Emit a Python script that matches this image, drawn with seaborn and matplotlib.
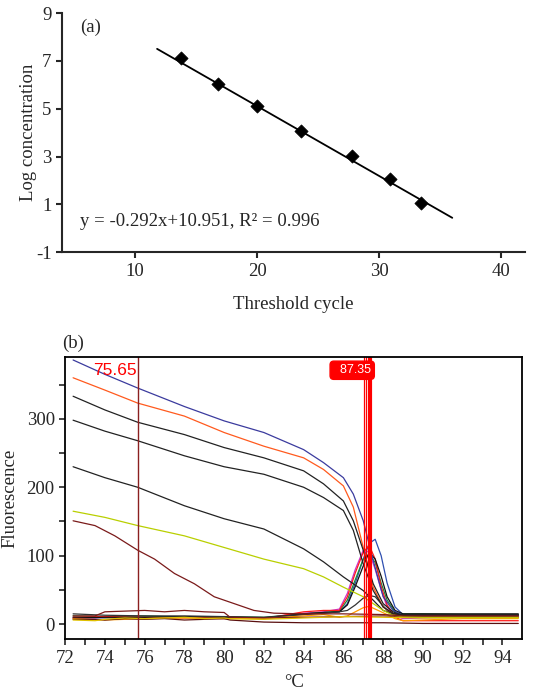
import numpy as np
import pandas as pd
import matplotlib
matplotlib.use('Agg')
import matplotlib.pyplot as plt
import seaborn as sns

# (a) standard curve: threshold cycle vs log concentration
ct = [13.8, 16.8, 20.0, 23.6, 27.8, 30.9, 33.4]
log_conc = [7.12, 6.05, 5.13, 4.08, 3.02, 2.05, 1.04]
slope = -0.292
intercept = 10.951
fit_x = [11.8, 36.0]
eq_text = 'y = -0.292x+10.951, R² = 0.996'

# (b) melting curves
temp_raw = [72.4, 74, 75.65, 78, 80, 82, 84, 85, 86, 86.5, 87, 87.5, 88, 88.5, 89, 90, 92, 94.8]
blue = [386, 365, 345, 318, 297, 280, 255, 236, 214, 190, 151, 93, 40, 20, 13, 12, 12, 12]
orange = [360, 342, 323, 304, 280, 260, 243, 226, 202, 171, 112, 54, 25, 15, 12, 11, 11, 11]
black1 = [333, 313, 295, 277, 258, 243, 224, 205, 180, 151, 108, 59, 30, 18, 12, 12, 12, 12]
black2 = [298, 282, 268, 246, 230, 219, 200, 185, 166, 137, 88, 49, 25, 16, 13, 13, 13, 13]
black3 = [230, 214, 200, 173, 154, 139, 110, 91, 69, 59, 49, 35, 20, 15, 14, 14, 14, 14]
yellow = [165, 156, 144, 129, 112, 95, 81, 69, 54, 47, 40, 30, 20, 13, 11, 10, 10, 10]

temp_brown = [72.4, 73.5, 74.5, 75.65, 76.5, 77.5, 78.5, 79.5, 80.5, 81.5, 82.5, 84, 86, 88, 89, 92, 94.8]
brown = [151, 144, 129, 108, 95, 74, 59, 40, 30, 20, 16, 15, 15, 14, 12, 12, 12]

temp_pk = [72.4, 74, 76, 78, 80, 82, 84, 85, 85.8, 86.2, 86.6, 87.0, 87.3, 87.6, 87.9, 88.2, 88.6, 89.0, 90, 92, 94.8]
peak_blue = [10, 9, 10, 11, 9, 8, 14, 16, 18, 30, 60, 95, 118, 124, 100, 60, 25, 14, 13, 13, 12]
peak_magenta = [8, 10, 9, 10, 8, 9, 16, 18, 22, 45, 80, 108, 105, 80, 50, 25, 12, 8, 9, 10, 10]
peak_green = [12, 11, 12, 10, 11, 10, 15, 17, 19, 35, 65, 95, 102, 90, 60, 35, 18, 15, 15, 14, 14]
peak_red = [10, 11, 10, 9, 10, 8, 18, 20, 20, 40, 75, 105, 115, 95, 55, 28, 10, 5, 5, 5, 5]
peak_black = [9, 10, 10, 11, 10, 9, 15, 17, 18, 28, 55, 85, 105, 95, 70, 40, 20, 15, 15, 15, 15]
small_black = [15, 13, 12, 12, 11, 10, 14, 16, 18, 20, 28, 38, 42, 40, 30, 20, 12, 10, 10, 10, 10]
small_orange = [8, 6, 8, 9, 8, 8, 12, 14, 10, 12, 18, 24, 26, 22, 18, 14, 8, 5, 6, 8, 8]

temp_base = [72.4, 73.5, 74, 75, 76, 77, 78, 79, 80, 80.3, 82, 84, 86, 88, 90, 92, 94.8]
base_brown = [12, 12, 18, 19, 20, 18, 20, 18, 17, 10, 9, 10, 11, 12, 10, 10, 10]
base_dark = [7, 7, 6, 8, 7, 8, 6, 7, 8, 6, 3, 2, 2, 2, 1, 1, 1]
base_yellow = [6, 5, 7, 9, 8, 9, 10, 8, 9, 8, 7, 9, 11, 10, 9, 9, 9]

marker_temp = 75.65
peak_temps = [87.05, 87.15]
peak_temp = 87.35

raw_series = [(blue, '#3b3b9e'), (orange, '#ff5a1e'), (black1, '#222222'),
              (black2, '#222222'), (black3, '#222222'), (yellow, '#b9cf00')]
peak_series = [(peak_blue, '#2f4fb0'), (peak_magenta, '#cc33cc'), (peak_green, '#1a8a3a'),
               (peak_red, '#ff1a1a'), (peak_black, '#111111'), (small_black, '#333333'),
               (small_orange, '#ff9a00')]

sns.set_style('ticks')
plt.rcParams['font.family'] = ['Liberation Serif', 'DejaVu Serif']
plt.rcParams['axes.unicode_minus'] = False

fig = plt.figure(figsize=(5.34, 6.91), dpi=100)

# ---- (a)
ax1 = fig.add_axes([0.116, 0.635, 0.868, 0.346])
fit = pd.DataFrame({'x': fit_x, 'y': [slope * v + intercept for v in fit_x]})
sns.lineplot(data=fit, x='x', y='y', color='black', lw=1.3, ax=ax1)
pts = pd.DataFrame({'ct': ct, 'lc': log_conc})
sns.scatterplot(data=pts, x='ct', y='lc', marker='D', s=45, color='black',
                edgecolor='black', ax=ax1, zorder=3)
ax1.set_xlim(4, 42)
ax1.set_ylim(-1, 9)
ax1.set_xticks([10, 20, 30, 40])
ax1.set_yticks([-1, 1, 3, 5, 7, 9])
sns.despine(ax=ax1)
for s in ['left', 'bottom']:
    ax1.spines[s].set_linewidth(1.5)
ax1.tick_params(direction='out', length=4, width=1.5, labelsize=13.5)
ax1.set_xlabel('Threshold cycle', fontsize=13.5, labelpad=12)
ax1.set_ylabel('Log concentration', fontsize=13.5, labelpad=-1)
ax1.text(5.5, 8.4, '(a)', fontsize=13.5, ha='left', va='center')
ax1.text(5.5, 0.3, eq_text, fontsize=13.5, ha='left', va='center')

# ---- (b)
ax2 = fig.add_axes([0.122, 0.075, 0.856, 0.408])
for vals, col in peak_series:
    sns.lineplot(x=temp_pk, y=vals, color=col, lw=0.9, ax=ax2)
for vals, col in [(base_brown, '#7a1a1a'), (base_dark, '#5a1010'), (base_yellow, '#e0c000')]:
    sns.lineplot(x=temp_base, y=vals, color=col, lw=0.9, ax=ax2)
for vals, col in raw_series:
    sns.lineplot(x=temp_raw, y=vals, color=col, lw=0.9, ax=ax2)
sns.lineplot(x=temp_brown, y=brown, color='#7a1a1a', lw=0.9, ax=ax2)

ax2.axvline(marker_temp, color='#8b2020', lw=1.0)
for t in peak_temps:
    ax2.axvline(t, color='red', lw=0.9)
ax2.axvline(peak_temp, color='red', lw=3.0)
ax2.text(marker_temp - 0.05, 371, '75.65', color='red', fontsize=12.5,
         family=['Liberation Sans Narrow', 'Liberation Sans', 'DejaVu Sans'],
         ha='right', va='center')
ax2.text(peak_temp + 0.05, 371, '  87.35', color='white', fontsize=9,
         family=['Liberation Sans', 'DejaVu Sans'], ha='right', va='center',
         bbox=dict(boxstyle='round,pad=0.25,rounding_size=0.3', fc='red', ec='red'))

ax2.set_xlim(72, 95)
ax2.set_ylim(-22, 390)
ax2.set_xticks(range(72, 95))
ax2.set_xticklabels([str(v) if v % 2 == 0 else '' for v in range(72, 95)])
ax2.set_yticks(range(0, 351, 50))
ax2.set_yticklabels([str(v) if v % 100 == 0 else '' for v in range(0, 351, 50)])
for s in ax2.spines.values():
    s.set_linewidth(1.3)
    s.set_color('black')
ax2.tick_params(direction='out', length=4, width=1.2, labelsize=13.5)
ax2.set_xlabel('°C', fontsize=13.5, labelpad=5)
ax2.set_ylabel('Fluorescence', fontsize=13.5, labelpad=6)
fig.text(0.116, 1 - 343 / 691, '(b)', fontsize=13.5, ha='left', va='center')

fig.savefig('out.png', dpi=100)
